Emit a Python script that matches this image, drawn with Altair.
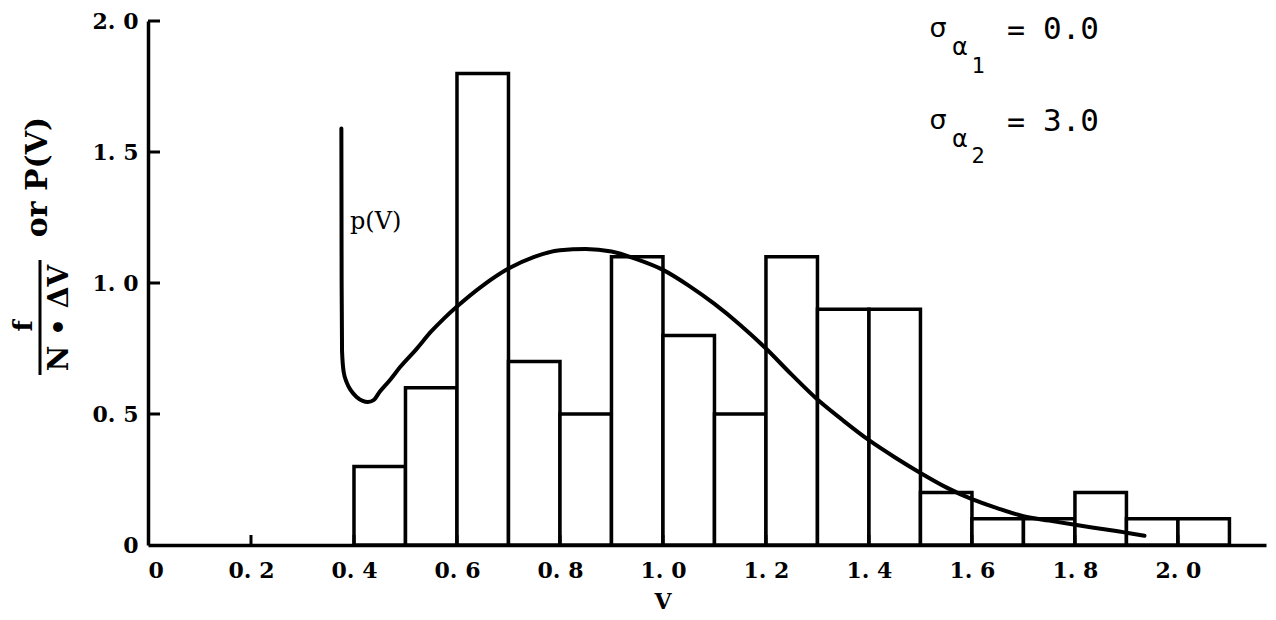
import altair as alt
import pandas as pd

# ---- data ----
bin_start = [0.4, 0.5, 0.6, 0.7, 0.8, 0.9, 1.0, 1.1, 1.2, 1.3, 1.4, 1.5, 1.6, 1.7, 1.8, 1.9, 2.0]
bin_end = [0.5, 0.6, 0.7, 0.8, 0.9, 1.0, 1.1, 1.2, 1.3, 1.4, 1.5, 1.6, 1.7, 1.8, 1.9, 2.0, 2.1]
freq = [0.3, 0.6, 1.8, 0.7, 0.5, 1.1, 0.8, 0.5, 1.1, 0.9, 0.9, 0.2, 0.1, 0.1, 0.2, 0.1, 0.1]

curve_v = [0.3755, 0.376, 0.3768, 0.380, 0.386, 0.394, 0.405, 0.417, 0.427, 0.438, 0.45, 0.47,
           0.49, 0.52, 0.55, 0.575, 0.60, 0.65, 0.70, 0.75, 0.80, 0.85, 0.90, 0.95, 1.00, 1.05,
           1.10, 1.15, 1.20, 1.25, 1.30, 1.35, 1.40, 1.45, 1.50, 1.55, 1.60, 1.65, 1.70,
           1.75, 1.80, 1.85, 1.90, 1.935]
curve_p = [1.59, 1.00, 0.74, 0.66, 0.62, 0.59, 0.565, 0.550, 0.546, 0.553, 0.585, 0.63,
           0.68, 0.745, 0.815, 0.865, 0.91, 0.99, 1.055, 1.10, 1.125, 1.13, 1.12, 1.09, 1.05, 0.99,
           0.92, 0.84, 0.75, 0.65, 0.555, 0.475, 0.40, 0.335, 0.275, 0.22, 0.175, 0.14, 0.11,
           0.093, 0.077, 0.062, 0.047, 0.035]

x_tick_values = [0, 0.2, 0.4, 0.6, 0.8, 1.0, 1.2, 1.4, 1.6, 1.8, 2.0]
y_tick_values = [0, 0.5, 1.0, 1.5, 2.0]
x_inner_ticks = [0.2, 0.4, 0.6, 0.8, 1.0, 1.2, 1.4, 1.6, 1.8, 2.0]
y_inner_ticks = [0.5, 1.0, 1.5, 2.0]

W, H = 1118, 524
SERIF = "DejaVu Serif"

bars_df = pd.DataFrame({"start": bin_start, "end": bin_end, "f": freq})
curve_df = pd.DataFrame({"V": curve_v, "p": curve_p, "i": list(range(len(curve_v)))})
xt_df = pd.DataFrame({"t": x_inner_ticks})
yt_df = pd.DataFrame({"t": y_inner_ticks})

xscale = alt.Scale(domain=[0, 2.171], nice=False, zero=False)
yscale = alt.Scale(domain=[0, 2.0], nice=False)

lab_expr = "datum.value == 0 ? '0' : replace(format(datum.value, '.1f'), '.', '. ')"

bars = alt.Chart(bars_df).mark_rect(
    fill="white", stroke="black", strokeWidth=3.5
).encode(
    x=alt.X("start:Q", scale=xscale,
            axis=alt.Axis(values=x_tick_values, labelExpr=lab_expr, title=None,
                          grid=False, ticks=False, domainColor="black", domainWidth=3.5,
                          labelFont=SERIF, labelFontSize=22, labelFontWeight="bold",
                          labelColor="black", labelPadding=15)),
    x2="end:Q",
    y=alt.Y("f:Q", scale=yscale,
            axis=alt.Axis(values=y_tick_values, labelExpr=lab_expr, title=None,
                          grid=False, ticks=False, domainColor="black", domainWidth=3.5,
                          labelFont=SERIF, labelFontSize=22, labelFontWeight="bold",
                          labelColor="black", labelPadding=10)),
    y2=alt.Y2(datum=0),
)

curve = alt.Chart(curve_df).mark_line(
    color="black", strokeWidth=4, interpolate="monotone", strokeCap="round", strokeJoin="round"
).encode(
    x=alt.X("V:Q", scale=xscale),
    y=alt.Y("p:Q", scale=yscale),
    order="i:Q",
)

xticks = alt.Chart(xt_df).mark_rule(color="black", strokeWidth=3).encode(
    x=alt.X("t:Q", scale=xscale), y=alt.value(H), y2=alt.value(H - 10)
)
yticks = alt.Chart(yt_df).mark_rule(color="black", strokeWidth=3).encode(
    y=alt.Y("t:Q", scale=yscale), x=alt.value(0), x2=alt.value(12)
)


def label(txt, x, y, size, font=SERIF, angle=0, align="center", weight="normal"):
    return alt.Chart(alt.Data(values=[{}])).mark_text(
        text=txt, fontSize=size, font=font, angle=angle, align=align,
        baseline="middle", fontWeight=weight, color="black"
    ).encode(x=alt.value(x), y=alt.value(y))


frac_bar = alt.Chart(alt.Data(values=[{}])).mark_rule(color="black", strokeWidth=3).encode(
    x=alt.value(-108), y=alt.value(239), y2=alt.value(354)
)

texts = [
    label("or P(V)", -110, 156, 30, angle=270, weight="bold"),
    label("f", -124, 305, 26, angle=270, weight="bold"),
    label("N • ΔV", -88, 297, 28, angle=270, weight="bold"),
    label("V", 515, 581, 22, weight="bold"),
    label("p(V)", 202, 201, 24, align="left"),
    label("σ", 790, 8, 27, font="DejaVu Sans"),
    label("α", 812, 27, 24, font="DejaVu Sans"),
    label("1", 830, 45, 22, font="DejaVu Sans Mono"),
    label("=", 868, 10, 30, font="DejaVu Sans Mono"),
    label("0.0", 923, 9, 31, font="DejaVu Sans Mono"),
    label("σ", 790, 100, 27, font="DejaVu Sans"),
    label("α", 812, 119, 24, font="DejaVu Sans"),
    label("2", 830, 135, 22, font="DejaVu Sans Mono"),
    label("=", 868, 102, 30, font="DejaVu Sans Mono"),
    label("3.0", 923, 101, 31, font="DejaVu Sans Mono"),
]

chart = alt.layer(bars, curve, xticks, yticks, frac_bar, *texts).properties(
    width=W, height=H,
    autosize=alt.AutoSizeParams(type="none"),
    padding={"left": 140, "top": 13, "right": 2, "bottom": 70},
    background="white",
).configure_view(stroke=None)

chart.save("out.html", embed_options={"renderer": "svg", "actions": False})
